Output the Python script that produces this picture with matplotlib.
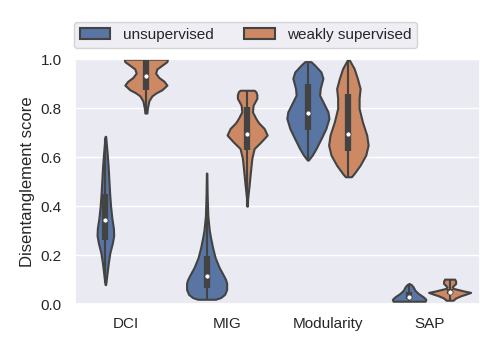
import matplotlib
matplotlib.use("Agg")
import matplotlib.pyplot as plt
from matplotlib.patches import Patch
import seaborn as sns
import numpy as np

sns.set_theme(style="darkgrid")
plt.rcParams['font.family'] = ['Liberation Sans', 'DejaVu Sans']

categories = ["DCI", "MIG", "Modularity", "SAP"]
groups = ["unsupervised", "weakly supervised"]

# density profiles (y value, relative density), per (category, group)
prof_y = {
    ("DCI", 0): [0.08, 0.12, 0.17, 0.21, 0.25, 0.28, 0.31, 0.35, 0.40, 0.45, 0.50, 0.56, 0.62, 0.685],
    ("DCI", 1): [0.78, 0.80, 0.83, 0.85, 0.862, 0.875, 0.894, 0.91, 0.925, 0.943, 0.96, 0.975, 0.99, 1.0],
    ("MIG", 0): [0.02, 0.027, 0.04, 0.06, 0.085, 0.10, 0.12, 0.15, 0.19, 0.23, 0.27, 0.30, 0.36, 0.45, 0.535],
    ("MIG", 1): [0.40, 0.43, 0.486, 0.54, 0.595, 0.635, 0.662, 0.69, 0.717, 0.74, 0.758, 0.785, 0.812, 0.84, 0.855, 0.867, 0.873],
    ("Modularity", 0): [0.588, 0.608, 0.636, 0.677, 0.717, 0.758, 0.785, 0.826, 0.853, 0.88, 0.922, 0.948, 0.976, 0.99],
    ("Modularity", 1): [0.52, 0.533, 0.567, 0.608, 0.649, 0.69, 0.744, 0.799, 0.84, 0.88, 0.921, 0.962, 1.0],
    ("SAP", 0): [0.012, 0.019, 0.025, 0.033, 0.044, 0.057, 0.071, 0.08, 0.084],
    ("SAP", 1): [0.016, 0.025, 0.034, 0.042, 0.048, 0.053, 0.057, 0.064, 0.07, 0.077, 0.084, 0.094, 0.102],
}
prof_d = {
    ("DCI", 0): [0.3, 1.5, 3, 4.5, 7, 8.3, 8, 6.5, 5.2, 4.3, 3.6, 2.8, 1.7, 0.3],
    ("DCI", 1): [1, 1.5, 3, 6, 10, 16, 21, 18, 13, 9.7, 11, 16, 21, 21.5],
    ("MIG", 0): [9, 14, 18, 20, 20, 19, 16.5, 12.5, 8.5, 6, 4, 2.7, 1.2, 0.5, 0.2],
    ("MIG", 1): [0.2, 0.5, 2, 3.3, 4.7, 7, 13.7, 20, 17, 11.5, 8.7, 5.3, 6, 9.7, 9.7, 8.7, 7],
    ("Modularity", 0): [0.5, 4.3, 8.3, 13.3, 18, 21, 20, 15, 11.7, 12.3, 15, 13, 6.7, 3],
    ("Modularity", 1): [3, 5.7, 11.7, 17.3, 19.7, 18.3, 14, 10.7, 10.7, 11.7, 9, 5.7, 0.5],
    ("SAP", 0): [16, 16.7, 15.5, 13, 9, 5.7, 4, 2, 0.3],
    ("SAP", 1): [3.5, 6, 11, 17, 21, 15, 11, 4, 2.7, 4, 6, 6, 5],
}
# box statistics: whisker low, q1, median, q3, whisker high
whis_lo = {("DCI", 0): 0.085, ("DCI", 1): 0.78, ("MIG", 0): 0.02, ("MIG", 1): 0.395,
           ("Modularity", 0): 0.588, ("Modularity", 1): 0.52, ("SAP", 0): 0.012, ("SAP", 1): 0.016}
q1 = {("DCI", 0): 0.26, ("DCI", 1): 0.876, ("MIG", 0): 0.065, ("MIG", 1): 0.629,
      ("Modularity", 0): 0.71, ("Modularity", 1): 0.624, ("SAP", 0): 0.02, ("SAP", 1): 0.04}
median = {("DCI", 0): 0.343, ("DCI", 1): 0.933, ("MIG", 0): 0.115, ("MIG", 1): 0.693,
          ("Modularity", 0): 0.782, ("Modularity", 1): 0.693, ("SAP", 0): 0.03, ("SAP", 1): 0.049}
q3 = {("DCI", 0): 0.449, ("DCI", 1): 1.0, ("MIG", 0): 0.195, ("MIG", 1): 0.803,
      ("Modularity", 0): 0.90, ("Modularity", 1): 0.858, ("SAP", 0): 0.05, ("SAP", 1): 0.06}
whis_hi = {("DCI", 0): 0.68, ("DCI", 1): 1.0, ("MIG", 0): 0.535, ("MIG", 1): 0.872,
           ("Modularity", 0): 0.99, ("Modularity", 1): 1.0, ("SAP", 0): 0.08, ("SAP", 1): 0.10}

palette = sns.color_palette("deep", 2)
colors = [sns.desaturate(c, 0.75) for c in palette]
gray = "#434343"
lw = 1.5
dens_scale = 1.0 / 101  # density unit -> axis half-width

fig = plt.figure(figsize=(5, 3.5), dpi=100)
ax = fig.add_axes([0.15, 0.131, 0.81, 0.70])

for i, cat in enumerate(categories):
    for g in range(2):
        key = (cat, g)
        x0 = i + (-0.2 if g == 0 else 0.2)
        y = np.array(prof_y[key])
        d = np.array(prof_d[key]) * dens_scale
        ax.fill_betweenx(y, x0 - d, x0 + d, facecolor=colors[g], edgecolor=gray,
                         linewidth=lw, zorder=1)
        ax.plot([x0, x0], [whis_lo[key], whis_hi[key]], color=gray, lw=lw,
                solid_capstyle="butt", zorder=2)
        ax.plot([x0, x0], [q1[key], q3[key]], color=gray, lw=lw * 3,
                solid_capstyle="butt", zorder=2)
        ax.scatter([x0], [median[key]], color="white", edgecolor=gray, s=13,
                   linewidth=0.5, zorder=3)

ax.set_xlim(-0.5, 3.5)
ax.set_ylim(0, 1)
ax.set_xticks(range(len(categories)))
ax.set_xticklabels(categories)
ax.set_yticks([0, 0.2, 0.4, 0.6, 0.8, 1.0])
ax.set_ylabel("Disentanglement score")
ax.grid(False, axis="x")

handles = [Patch(facecolor=colors[g], edgecolor=gray, linewidth=lw, label=groups[g]) for g in range(2)]
ax.legend(handles=handles, loc="lower left", bbox_to_anchor=(-0.003, 1.045), ncol=2,
          borderaxespad=0, frameon=True)

fig.savefig("out.png", dpi=100)
